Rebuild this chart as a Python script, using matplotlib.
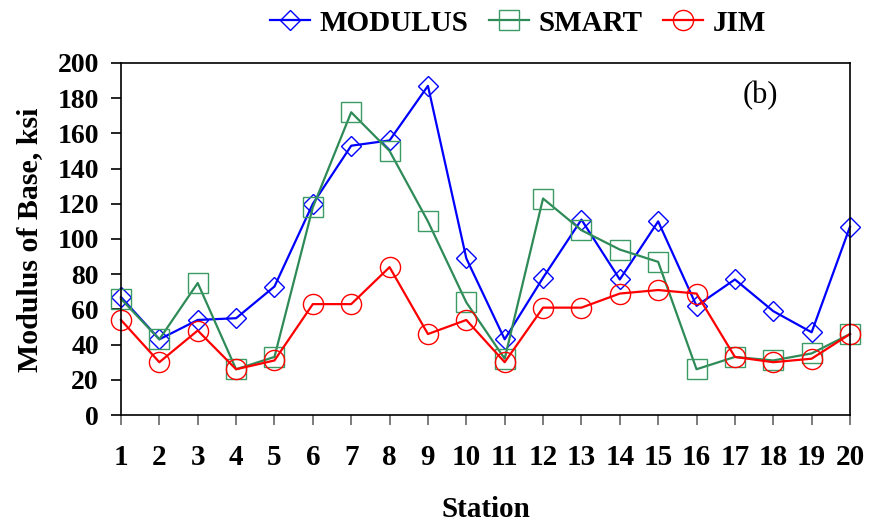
import matplotlib
matplotlib.use('Agg')
import matplotlib.pyplot as plt
import numpy as np

stations = list(range(1, 21))
modulus = [67, 43, 54, 55, 73, 120, 153, 156, 187, 89, 43, 78, 111, 77, 110, 62, 77, 59, 47, 107]
smart = [66, 43, 75, 26, 33, 118, 172, 150, 110, 64, 32, 123, 105, 94, 87, 26, 33, 31, 35, 46]
jim = [54, 30, 48, 26, 31, 63, 63, 84, 46, 54, 30, 61, 61, 69, 71, 69, 33, 30, 32, 46]
y_ticks = np.arange(0, 201, 20)

plt.rcParams['font.family'] = ['Liberation Serif', 'DejaVu Serif']

fig = plt.figure(figsize=(8.71, 5.27), dpi=100)
ax = fig.add_axes([0.1389, 0.2125, 0.837, 0.668])

ax.plot(stations, modulus, '-', color='#0000ff', lw=1.6, marker='D', ms=10,
        mfc='none', mec='#0000ff', mew=1.0, label='MODULUS', clip_on=False)
ax.plot(stations, smart, '-', color='#2e8b57', lw=1.6, marker='s', ms=14,
        mfc='none', mec='#3c9a64', mew=1.0, label='SMART', clip_on=False)
ax.plot(stations, jim, '-', color='#ff0000', lw=1.6, marker='o', ms=14.5,
        mfc='none', mec='#ff0000', mew=1.0, label='JIM', clip_on=False)

ax.set_xlim(1, 20)
ax.set_ylim(0, 200)
ax.set_xticks(stations)
ax.set_yticks(y_ticks)
ax.tick_params(axis='both', direction='out', length=7, width=1.2)
ax.tick_params(axis='x', color='#666666', labelsize=21, pad=14)
ax.tick_params(axis='y', labelsize=20, pad=9)
for lab in ax.get_xticklabels() + ax.get_yticklabels():
    lab.set_fontweight('bold')
for sp in ax.spines.values():
    sp.set_linewidth(1.2)

ax.set_xlabel('Station', fontsize=21, fontweight='bold')
ax.xaxis.set_label_coords(0.5, -0.267)
ax.xaxis.label.set_va('center')
ax.set_ylabel('Modulus of Base, ksi', fontsize=21.5, fontweight='bold')
ax.yaxis.set_label_coords(-0.125, 0.497)
ax.yaxis.label.set_va('center')
ax.text(0.877, 0.906, '(b)', transform=ax.transAxes, fontsize=22, ha='center', va='center')

fig.legend(loc='center', bbox_to_anchor=(0.595, 0.956), ncol=3, frameon=False,
           prop={'size': 21, 'weight': 'bold'}, handlelength=1.35, columnspacing=0.7,
           handletextpad=0.35)

fig.savefig('out.png', dpi=100)
